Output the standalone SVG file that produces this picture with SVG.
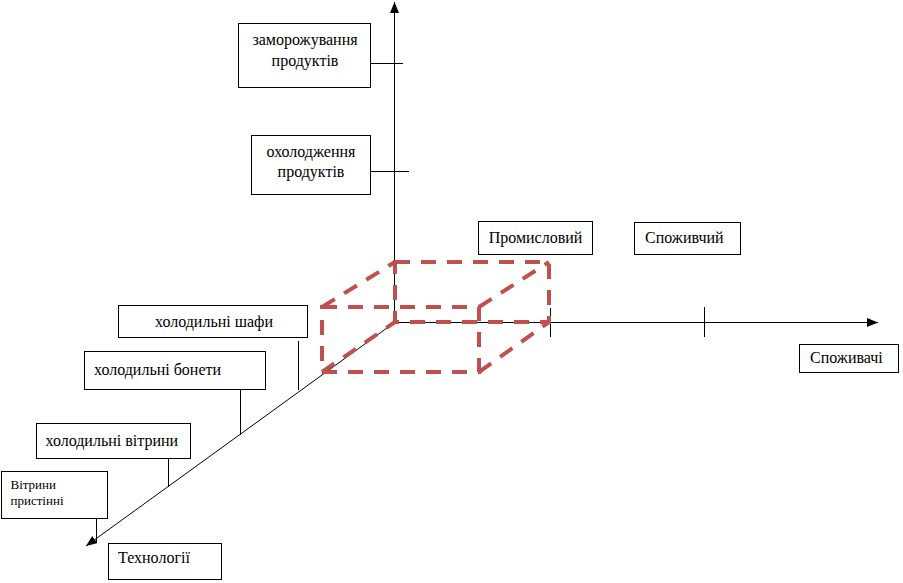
<svg xmlns="http://www.w3.org/2000/svg" width="903" height="583" viewBox="0 0 903 583">
<defs>
<marker id="arr" markerUnits="userSpaceOnUse" markerWidth="12" markerHeight="10" refX="11" refY="4.5" orient="auto">
<path d="M0,0 L11,4.5 L0,9 Z" fill="#000"/>
</marker>
</defs>
<style>
.box{fill:#fff;stroke:#000;stroke-width:1}
.ax{stroke:#000;stroke-width:1;fill:none}
.dash{stroke:#C0504D;stroke-width:4;fill:none;stroke-dasharray:15 11}
</style>
<rect width="903" height="583" fill="#fff"/>
<g id="connectors">
<line class="ax" x1="394.5" y1="322.5" x2="394.5" y2="2" marker-end="url(#arr)"/>
<line class="ax" x1="394.5" y1="322.5" x2="878" y2="322.5" marker-end="url(#arr)"/>
<line class="ax" x1="394.5" y1="322.5" x2="86" y2="546" marker-end="url(#arr)"/>
<line class="ax" x1="371" y1="63.5" x2="403" y2="63.5"/>
<line class="ax" x1="371" y1="171.5" x2="409" y2="171.5"/>
<line class="ax" x1="550.5" y1="308" x2="550.5" y2="337"/>
<line class="ax" x1="704.5" y1="307" x2="704.5" y2="337"/>
<line class="ax" x1="298.5" y1="341" x2="298.5" y2="390"/>
<line class="ax" x1="240.5" y1="390" x2="240.5" y2="435"/>
<line class="ax" x1="168.5" y1="459" x2="168.5" y2="487"/>
<line class="ax" x1="96.5" y1="519" x2="96.5" y2="542"/>
</g>
<g id="cube">
<path class="dash" d="M322,307 L479,307 L479,372 L322,372 Z"/>
<path class="dash" d="M395,262 L549,262 L549,322 L395,322 Z"/>
<path class="dash" d="M322,307 L395,262 M479,307 L549,262 M479,372 L549,322 M322,372 L395,322"/>
</g>
<g font-family="Liberation Serif, serif" font-size="16" fill="#000">
<g id="n-zamor">
<rect class="box" x="238.5" y="23.5" width="132" height="64"/>
<text x="305" y="45" text-anchor="middle">заморожування</text>
<text x="305" y="66" text-anchor="middle">продуктів</text>
</g>
<g id="n-okhol">
<rect class="box" x="251.5" y="135.5" width="119" height="59"/>
<text x="311" y="157" text-anchor="middle">охолодження</text>
<text x="311" y="177" text-anchor="middle">продуктів</text>
</g>
<g id="n-prom">
<rect class="box" x="478.5" y="221.5" width="114" height="33"/>
<text x="535.5" y="243" text-anchor="middle">Промисловий</text>
</g>
<g id="n-spozh">
<rect class="box" x="634.5" y="222.5" width="106" height="32"/>
<text x="645" y="243">Споживчий</text>
</g>
<g id="n-spozhyvachi">
<rect class="box" x="799.5" y="344.5" width="99" height="28"/>
<text x="810" y="363">Споживачі</text>
</g>
<g id="n-shafy">
<rect class="box" x="118.5" y="305.5" width="189" height="32"/>
<text x="155" y="327">холодильні шафи</text>
</g>
<g id="n-bonety">
<rect class="box" x="84.5" y="351.5" width="181" height="38"/>
<text x="94" y="375">холодильні бонети</text>
</g>
<g id="n-vitryny">
<rect class="box" x="36.5" y="423.5" width="154" height="35"/>
<text x="45.5" y="446">холодильні вітрини</text>
</g>
<g id="n-pristinni">
<rect class="box" x="1.5" y="471.5" width="106" height="47"/>
<text x="10.5" y="489" font-size="13">Вітрини</text>
<text x="10.5" y="505" font-size="13">пристінні</text>
</g>
<g id="n-tekhn">
<rect class="box" x="108.5" y="543.5" width="113" height="36"/>
<text x="118" y="563">Технології</text>
</g>
</g>
</svg>
